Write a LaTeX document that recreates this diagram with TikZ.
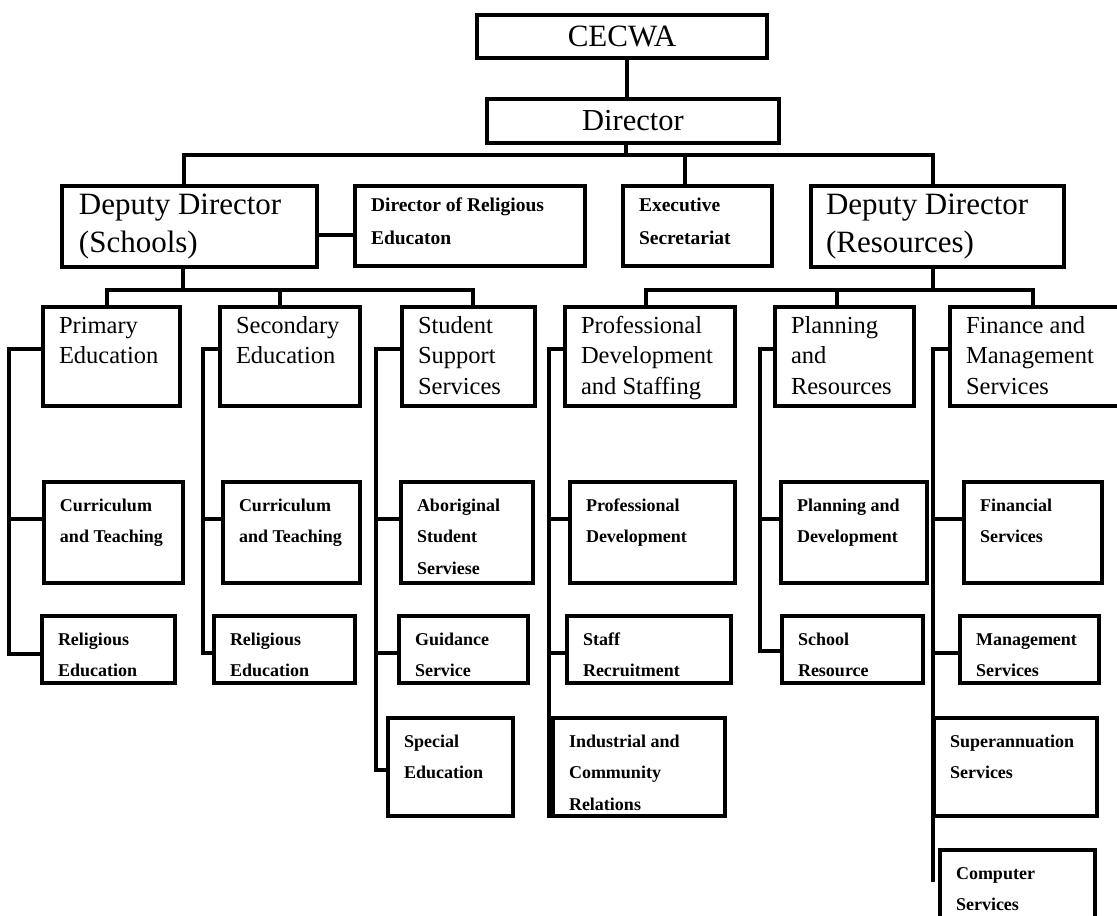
\documentclass[tikz,border=0pt]{standalone}
\usepackage{fontspec}
\setmainfont{Liberation Serif}
\newcommand\stA{\fontsize{24.5}{30.5}\selectfont\def\firstbl{26pt}}
\newcommand\stB{\bfseries\fontsize{18}{31.5}\selectfont\def\firstbl{29pt}}
\newcommand\stC{\bfseries\fontsize{19.5}{32.5}\selectfont\def\firstbl{25.5pt}}
% top-aligned text box: name,x1,y1,x2,y2,style,fontstyle,text
\newcommand\bxt[8]{%
  \pgfmathsetmacro\bxw{#4-#2}\pgfmathsetmacro\bxh{#5-#3}%
  \node[#6, minimum width=\bxw pt, minimum height=\bxh pt] (#1) at ({(#2+#4)/2},{(#3+#5)/2})
    {\parbox[c][\bxh pt][t]{\bxw pt}{#7\raggedright\leftskip=16pt\relax\rule{0pt}{\firstbl}#8\par}};}
% vertically centred text box
\newcommand\bxm[8]{%
  \pgfmathsetmacro\bxw{#4-#2}\pgfmathsetmacro\bxh{#5-#3}%
  \node[#6, minimum width=\bxw pt, minimum height=\bxh pt] (#1) at ({(#2+#4)/2},{(#3+#5)/2})
    {\parbox[c][\bxh pt][c]{\bxw pt}{#7#8\par}};}
\tikzset{
  box/.style={draw=black, line width=3.2pt, inner sep=0pt},
  heavy/.style={draw=black, line width=4.6pt, inner sep=0pt},
  link/.style={draw=black, line width=3.4pt, line join=miter}
}
\begin{document}
\begin{tikzpicture}[x=1pt,y=-1pt]
\useasboundingbox (0,0) rectangle (1117,916);
\clip (0,0) rectangle (1117,916);
% top levels
\bxm{cec}{477}{15}{767}{58}{heavy}{\centering\fontsize{31}{36}\selectfont}{CECWA}
\bxm{dir}{487}{99}{779}{143}{heavy}{\centering\fontsize{30.5}{36}\selectfont}{Director}
\bxm{dds}{62}{186}{317}{267}{heavy}{\raggedright\leftskip=17pt\relax\fontsize{31}{38}\selectfont}{Deputy Director\\(Schools)}
\bxt{dre}{355}{186}{585}{266}{box}{\stC}{Director of Religious\\Educaton}
\bxt{es}{623}{186}{772}{266}{box}{\stC}{Executive\\Secretariat}
\bxm{ddr}{811}{186}{1064}{267}{heavy}{\raggedright\leftskip=15pt\relax\fontsize{31}{38}\selectfont}{Deputy Director\\(Resources)}
% row 1
\bxt{pe}{43}{307}{180}{406}{box}{\stA}{Primary\\Education}
\bxt{se}{220}{307}{360}{406}{box}{\stA}{Secondary\\Education}
\bxt{sss}{402}{307}{535}{406}{box}{\stA}{Student\\Support\\Services}
\bxt{pds}{565}{307}{735}{406}{box}{\stA}{Professional\\Development\\and Staffing}
\bxt{pr}{775}{307}{914}{406}{box}{\stA}{Planning\\and\\Resources}
\bxt{fms}{950}{307}{1122}{406}{box}{\stA}{Finance and\\Management\\Services}
% row 2
\bxt{ct1}{44}{482}{183}{583}{box}{\stB}{Curriculum\\and Teaching}
\bxt{ct2}{223}{482}{360}{583}{box}{\stB}{Curriculum\\and Teaching}
\bxt{ass}{401}{482}{533}{583}{box}{\stB}{Aboriginal\\Student\\Serviese}
\bxt{pd}{570}{482}{735}{583}{box}{\stB}{Professional\\Development}
\bxt{pld}{781}{482}{927}{583}{box}{\stB}{Planning and\\Development}
\bxt{fs}{964}{482}{1102}{583}{box}{\stB}{Financial\\Services}
% row 3
\bxt{re1}{42}{616}{175}{683}{box}{\stB}{Religious\\Education}
\bxt{re2}{214}{616}{355}{683}{box}{\stB}{Religious\\Education}
\bxt{gs}{399}{616}{528}{683}{box}{\stB}{Guidance\\Service}
\bxt{sr}{567}{616}{731}{683}{box}{\stB}{Staff\\Recruitment}
\bxt{scr}{782}{616}{923}{683}{box}{\stB}{School\\Resource}
\bxt{ms}{960}{616}{1099}{683}{box}{\stB}{Management\\Services}
% row 4
\bxt{spe}{388}{718}{513}{816}{box}{\stB}{Special\\Education}
\bxt{icr}{553}{718}{725}{816}{box}{\stB}{Industrial and\\Community\\Relations}
\bxt{sas}{934}{718}{1097}{816}{box}{\stB}{Superannuation\\Services}
% row 5
\bxt{cs}{940}{850}{1095}{925}{box}{\stB}{Computer\\Services}
% --- connectors
\coordinate (b1) at (626,155);
\draw[link] (627,0 |- cec.south) -- (627,0 |- dir.north);
\draw[link] (626,0 |- dir.south) -- (b1);
\draw[link] (184,0 |- dds.north) -- (184,155) -- (933,155) -- (933,0 |- ddr.north);
\draw[link] (685,155) -- (685,0 |- es.north);
\draw[link] (dds.east |- 0,235) -- (dre.west |- 0,235);
% schools bus
\coordinate (b2) at (183,290);
\draw[link] (183,0 |- dds.south) -- (b2);
\draw[link] (107,0 |- pe.north) -- (107,290) -- (473,290) -- (473,0 |- sss.north);
\draw[link] (280,290) -- (280,0 |- se.north);
% resources bus
\coordinate (b3) at (933,290);
\draw[link] (933,0 |- ddr.south) -- (b3);
\draw[link] (646,0 |- pds.north) -- (646,290) -- (1033,290) -- (1033,0 |- fms.north);
\draw[link] (837,290) -- (837,0 |- pr.north);
% spines
\draw[link] (pe.west |- 0,349) -- (9,349) -- (9,654) -- (re1.west |- 0,654);
\draw[link] (9,519) -- (ct1.west |- 0,519);
\draw[link] (se.west |- 0,349) -- (203,349) -- (203,653) -- (re2.west |- 0,653);
\draw[link] (203,519) -- (ct2.west |- 0,519);
\draw[link] (sss.west |- 0,349) -- (376,349) -- (376,770) -- (spe.west |- 0,770);
\draw[link] (376,519) -- (ass.west |- 0,519);
\draw[link] (376,653) -- (gs.west |- 0,653);
\draw[link] (pds.west |- 0,349) -- (549,349) -- (549,818);
\draw[link] (549,519) -- (pd.west |- 0,519);
\draw[link] (549,653) -- (sr.west |- 0,653);
\draw[link] (pr.west |- 0,349) -- (760,349) -- (760,651) -- (scr.west |- 0,651);
\draw[link] (760,519) -- (pld.west |- 0,519);
\draw[link] (fms.west |- 0,349) -- (933,349) -- (933,882);
\draw[link] (933,519) -- (fs.west |- 0,519);
\draw[link] (933,653) -- (ms.west |- 0,653);
\end{tikzpicture}
\end{document}
